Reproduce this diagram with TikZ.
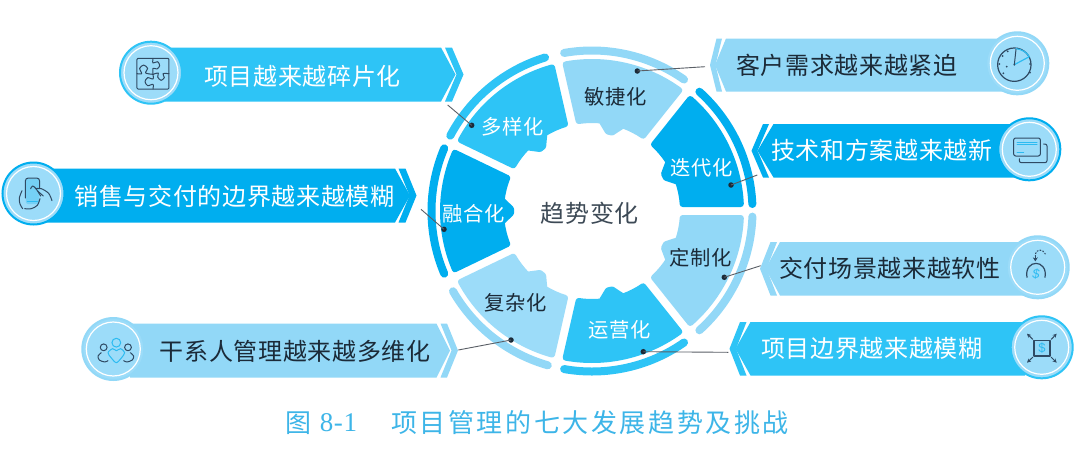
\documentclass[tikz,border=0pt]{standalone}
\usepackage{fontspec}
\setmainfont{Liberation Serif}
\newfontfamily\cjk[LetterSpace=2.8]{Noto Sans CJK SC}
\newfontfamily\cjkcap[LetterSpace=10]{Noto Sans CJK SC}
\newfontfamily\latincap[LetterSpace=2]{Liberation Serif}
\newfontfamily\iconfont{Liberation Sans}
\usetikzlibrary{arrows.meta}
\definecolor{cdeep}{HTML}{00AEEF}
\definecolor{cmid}{HTML}{2EC4F6}
\definecolor{clight}{HTML}{92D8F7}
\definecolor{cpale}{HTML}{9CDCF9}
\definecolor{cink}{HTML}{1B2A38}
\definecolor{cicon}{HTML}{2F4A63}
\definecolor{ccap}{HTML}{3DB5E8}
\definecolor{cline}{HTML}{5A5F66}
\tikzset{
  segshape/.style={line width=6pt,line join=round},
  ringarc/.style={line width=8pt,line cap=round},
  bannertext/.style={inner sep=0pt,font=\cjk\fontsize{24}{24}\selectfont},
  wheeltext/.style={inner sep=0pt,font=\cjk\fontsize{20.3}{21}\selectfont},
  badge/.style={circle,inner sep=0pt,minimum size=62pt,line width=2pt},
  badgering/.style={circle,inner sep=0pt,minimum size=54pt,draw=white,line width=1.2pt},
  icon/.style={draw=cicon,line width=1pt,line cap=round,line join=round},
  iconcy/.style={draw=cdeep!70!clight,line width=1pt,line cap=round,line join=round},
  leader/.style={draw=cline,line width=.9pt},
  leaderdot/.style={circle,fill=cink,inner sep=0pt,minimum size=5.5pt},
  captext/.style={inner sep=0pt,text=ccap}
}
% #1 base x, #2 top y, #3 bottom y, #4 body corner x, #5 body tip x,
% #6 strip inner x, #7 strip outer x, #8 strip tip x, #9 colour
\newcommand{\tagbanner}[9]{%
  \pgfmathsetmacro{\bmid}{(#2+#3)/2}%
  \pgfmathsetmacro{\binner}{#6+#8-#7}%
  \fill[#9] (#1,#2) -- (#4,#2) -- (#5,\bmid) -- (#4,#3) -- (#1,#3) -- cycle;
  \fill[#9] (#6,#2) -- (#7,#2) -- (#8,\bmid) -- (#7,#3) -- (#6,#3) -- (\binner,\bmid) -- cycle;
}
\newcommand{\wheelseg}[3]{%
  \pgfmathsetmacro{\segoa}{asin(7/149)}%
  \pgfmathsetmacro{\segia}{asin(7/91)}%
  \pgfmathsetmacro{\segmd}{(#1+#2)/2}%
  \filldraw[segshape,draw=#3,fill=#3] ({#1+\segoa}:149pt)
    arc[start angle={#1+\segoa},end angle={#2-\segoa},radius=149pt]
    -- ({#2-\segia}:91pt)
    arc[start angle={#2-\segia},end angle={\segmd+7},radius=91pt]
    -- ({\segmd+1.5}:81pt) -- ({\segmd-1.5}:81pt) -- ({\segmd-7}:91pt)
    arc[start angle={\segmd-7},end angle={#1+\segia},radius=91pt] -- cycle;
}
\newcommand{\wheelring}[3]{%
  \draw[ringarc,draw=#3] ({#1}:160.5pt) arc[start angle={#1},end angle={#2},radius=160.5pt];
}
\begin{document}
\begin{tikzpicture}[x=1pt,y=-1pt]
\useasboundingbox (0,0) rectangle (1080,451);
\fill[white] (0,0) rectangle (1080,451);

% banners
\tagbanner{165}{47.5}{101.5}{441}{455.5}{445}{452}{463.5}{cmid}
\tagbanner{45}{168.5}{222.5}{395}{410}{398.5}{405.5}{416.5}{cdeep}
\tagbanner{130}{323.5}{377.5}{436.5}{450}{440.5}{447}{458}{clight}
\tagbanner{1005}{38.5}{91.5}{726}{715}{722}{716.5}{710}{clight}
\tagbanner{1015}{124}{177.5}{773.5}{757.5}{769}{763}{751.5}{cdeep}
\tagbanner{1025}{242}{295.5}{780}{765.5}{777}{770.5}{760}{clight}
\tagbanner{1025}{322}{375.5}{750.5}{735.5}{746.5}{740}{729.5}{cmid}

% badges
\node[badge,fill=cpale,draw=cmid] (bA) at (151,72.7) {};
\node[badgering] (rA) at (bA) {};
\node[badge,fill=cpale,draw=cdeep] (bB) at (33.5,193.5) {};
\node[badgering] (rB) at (bB) {};
\node[badge,fill=cpale,draw=clight] (bC) at (113.3,349) {};
\node[badgering] (rC) at (bC) {};
\node[badge,fill=cpale,draw=clight] (bD) at (1017.3,63.3) {};
\node[badgering] (rD) at (bD) {};
\node[badge,fill=cpale,draw=cdeep] (bE) at (1029.3,149.3) {};
\node[badgering] (rE) at (bE) {};
\node[badge,fill=cpale,draw=clight] (bF) at (1037.7,267.3) {};
\node[badgering] (rF) at (bF) {};
\node[badge,fill=cpale,draw=cmid] (bG) at (1041.7,347.3) {};
\node[badgering] (rG) at (bG) {};

% puzzle icon
\begin{scope}[shift={(125,45)},x=.3333pt,y=-.3333pt]
  \draw[icon,rounded corners=1pt] (36,40) rectangle (132,132);
  \draw[icon] plot[smooth] coordinates {(36,86)(50,86)(44,70)(56,60)(68,70)(62,84)(84,88)};
  \draw[icon] plot[smooth] coordinates {(84,40)(84,54)(98,50)(104,62)(96,72)(84,70)(84,88)};
  \draw[icon] plot[smooth] coordinates {(84,88)(100,84)(98,96)(108,106)(118,98)(114,86)(132,86)};
  \draw[icon] plot[smooth] coordinates {(84,132)(84,118)(68,122)(60,110)(68,98)(84,102)(84,88)};
\end{scope}
% phone icon
\begin{scope}[shift={(8,168)},x=.3333pt,y=-.3333pt]
  \fill[clight!80!cdeep,rounded corners=2pt] (54,32) rectangle (94,108);
  \draw[icon,rounded corners=3pt] (52,90) -- (52,30) -- (95,30) -- (95,60);
  \draw[iconcy] (58,100) -- (88,100);
  \draw[icon] plot[smooth] coordinates {(42,68)(34,90)(36,108)(44,122)};
  \draw[icon] plot[smooth] coordinates {(50,122)(70,122)(88,112)(96,92)};
  \draw[icon] plot[smooth] coordinates {(68,62)(74,54)(84,62)(98,84)};
  \draw[icon] plot[smooth] coordinates {(82,62)(100,62)(122,76)(132,98)};
  \draw[icon] (90,70) -- (106,84);
\end{scope}
% people icon
\begin{scope}[shift={(88,322)},x=.3333pt,y=-.3333pt]
  \draw[icon] (47,76) circle[radius=3.4pt];
  \draw[icon] plot[smooth] coordinates {(40,92)(30,102)(34,114)(50,120)(60,116)};
  \draw[icon] (120,76) circle[radius=3.4pt];
  \draw[icon] plot[smooth] coordinates {(127,92)(137,102)(133,114)(117,120)(107,116)};
  \draw[iconcy] (85,62) circle[radius=4.4pt];
  \draw[iconcy] plot[smooth cycle] coordinates {(74,80)(85,86)(98,80)(110,92)(100,108)(85,122)(70,108)(60,92)};
\end{scope}
% clock icon
\begin{scope}[shift={(990,36)},x=.3333pt,y=-.3333pt]
  \draw[icon,line width=1.2pt] (73,86) circle[radius=16.7pt];
  \draw[iconcy,line width=1.2pt] (78,38) .. controls (95,40) and (110,48) .. (118,62) -- (73,86);
  \draw[icon] (73,86) -- (78,40);
  \foreach \p in {(38,60),(53,46),(28,84),(50,92),(120,84),(120,110),(40,112),(73,86)}{\fill[cicon] \p circle[radius=1pt];}
\end{scope}
% cards icon
\begin{scope}[shift={(1002,122)},x=.3333pt,y=-.3333pt]
  \draw[icon,rounded corners=2pt] (35,48) rectangle (115,102);
  \draw[icon,rounded corners=2pt] (125,66) -- (135,66) -- (135,122) -- (52,122) -- (52,110);
  \draw[iconcy] (45,60) -- (105,60);
  \draw[iconcy] (45,68) -- (105,68);
  \draw[iconcy] (45,92) -- (65,92);
\end{scope}
% coin icon
\begin{scope}[shift={(1010,240)},x=.3333pt,y=-.3333pt]
  \draw[icon,line width=1.2pt] (51,112) .. controls (46,85) and (62,70) .. (78,70) .. controls (94,70) and (110,85) .. (105,112);
  \node[inner sep=0pt,text=cdeep!70!clight,font=\iconfont\itshape\fontsize{13}{13}\selectfont] (coinS) at (78,102) {\$};
  \draw[icon,dotted,line width=1.1pt] (106,42) .. controls (98,25) and (76,25) .. (76,48);
  \draw[icon,-{Stealth[length=4pt,width=5pt]}] (76,48) -- (76,64);
\end{scope}
% expand icon
\begin{scope}[shift={(1014,320)},x=.3333pt,y=-.3333pt]
  \draw[icon,line width=1.5pt,fill=clight] (60,62) rectangle (108,108);
  \node[inner sep=0pt,text=cdeep!70!clight,font=\iconfont\fontsize{13}{13}\selectfont] (boxS) at (84,85) {\$};
  \draw[icon,-{Stealth[length=4pt,width=4pt]}] (56,58) -- (39,41);
  \draw[icon,-{Stealth[length=4pt,width=4pt]}] (112,58) -- (128,41);
  \draw[icon,-{Stealth[length=4pt,width=4pt]}] (56,112) -- (39,128);
  \draw[icon,-{Stealth[length=4pt,width=4pt]}] (112,112) -- (128,128);
\end{scope}

% wheel
\begin{scope}[shift={(592,211)}]
  \wheelring{107}{152}{cmid}
  \wheelring{55}{100}{clight}
  \wheelring{2.5}{48}{cdeep}
  \wheelring{-2}{-48}{clight}
  \wheelring{-55}{-100}{cmid}
  \wheelring{-106}{-150}{clight}
  \wheelring{157}{203}{cdeep}
  \wheelseg{0}{51.43}{cdeep}
  \wheelseg{51.43}{102.86}{clight}
  \wheelseg{102.86}{154.29}{cmid}
  \wheelseg{154.29}{205.71}{cdeep}
  \wheelseg{205.71}{257.14}{cpale}
  \wheelseg{257.14}{308.57}{cmid}
  \wheelseg{308.57}{360}{clight}
\end{scope}

% wheel labels
\node[wheeltext,text=white] (sDiverse) at (512.7,126.7) {多样化};
\node[wheeltext,text=cink] (sAgile) at (616,97.3) {敏捷化};
\node[wheeltext,text=white] (sIter) at (701.7,167.7) {迭代化};
\node[wheeltext,text=cink] (sCustom) at (701,257.7) {定制化};
\node[wheeltext,text=white] (sOps) at (620,330) {运营化};
\node[wheeltext,text=cink] (sComplex) at (516,302.3) {复杂化};
\node[wheeltext,text=white] (sMerge) at (473.3,213.3) {融合化};
\node[bannertext,text=cink!85!white] (hub) at (590,213.3) {趋势变化};

% banner labels
\node[bannertext,text=white] (tA) at (302.5,76) {项目越来越碎片化};
\node[bannertext,text=white] (tB) at (234.5,196) {销售与交付的边界越来越模糊};
\node[bannertext,text=cink] (tC) at (295.3,351) {干系人管理越来越多维化};
\node[bannertext,text=cink] (tD) at (846.7,65.5) {客户需求越来越紧迫};
\node[bannertext,text=white] (tE) at (881.7,150.5) {技术和方案越来越新};
\node[bannertext,text=cink] (tF) at (890,268.5) {交付场景越来越软性};
\node[bannertext,text=white] (tG) at (871.8,349) {项目边界越来越模糊};

% leaders
\node[leaderdot] (dA) at (471.7,125.3) {};
\coordinate (eA) at (447.7,105);
\draw[leader] (dA.center) -- (eA);
\node[leaderdot] (dB) at (444,229.3) {};
\coordinate (eB) at (421,209.3);
\draw[leader] (dB.center) -- (eB);
\node[leaderdot] (dC) at (511,340) {};
\coordinate (eC) at (458.3,350);
\draw[leader] (dC.center) -- (eC);
\node[leaderdot] (dD) at (637.3,71) {};
\coordinate (eD) at (705,66.7);
\draw[leader] (dD.center) -- (eD);
\node[leaderdot] (dE) at (731,185) {};
\coordinate (eE) at (757.3,175);
\draw[leader] (dE.center) -- (eE);
\node[leaderdot] (dF) at (724.3,277.3) {};
\coordinate (eF) at (760.7,265.7);
\draw[leader] (dF.center) -- (eF);
\node[leaderdot] (dG) at (643.3,351.7) {};
\coordinate (eG) at (728.3,352.3);
\draw[leader] (dG.center) -- (eG);

% caption
\node[captext,font=\cjkcap\fontsize{26}{26}\selectfont] (capA) at (298,423) {图};
\node[captext,font=\latincap\fontsize{27}{27}\selectfont] (capB) at (338.5,423) {8-1};
\node[captext,font=\cjkcap\fontsize{26}{26}\selectfont] (capC) at (590,423) {项目管理的七大发展趋势及挑战};
\end{tikzpicture}
\end{document}
